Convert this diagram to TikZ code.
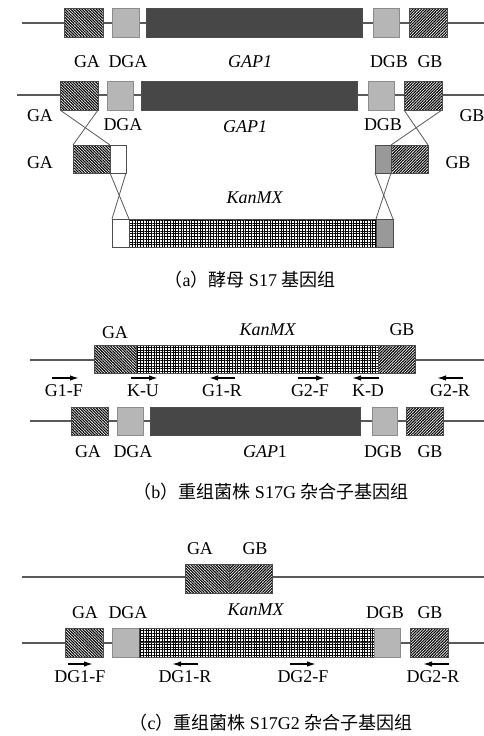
\documentclass[tikz,border=0pt]{standalone}
\usepackage{fontspec}
\setmainfont{Liberation Serif}
\newfontfamily\cjk{Noto Sans CJK SC}
\usetikzlibrary{patterns.meta,arrows.meta}

\begin{document}
\begin{tikzpicture}[x=1pt, y=-1pt,
  every node/.style={inner sep=0pt, outer sep=0pt},
  dna/.style={draw=black!65, line width=1.2pt},
  seg/.style={draw=black!70, line width=0.8pt, minimum height=29},
  gabox/.style={seg, preaction={fill=white}, pattern={Lines[angle=-45,distance=2pt,line width=1.1pt]}},
  gbbox/.style={seg, preaction={fill=white}, pattern={Lines[angle=45,distance=2pt,line width=1.1pt]}},
  dgbox/.style={seg, draw=black!45, preaction={fill=gray!35}, pattern={Dots[distance=2pt,radius=0.6pt]}, pattern color=black!65},
  genebox/.style={seg, fill=black!72},
  kanbox/.style={seg, preaction={fill=white}, pattern={Hatch[angle=0,distance=2.7pt,line width=0.6pt]}},
  whitebox/.style={seg, fill=white},
  graybox/.style={seg, fill=black!40},
  cross/.style={draw=black!65, line width=0.8pt},
  lbl/.style={font=\fontsize{18}{20}\selectfont},
  capline/.style={font=\fontsize{18}{20}\selectfont},
  primer/.style={line width=1.5pt, -{Latex[length=9pt,width=5.5pt]}}]
  \useasboundingbox (0,0) rectangle (484,736);

  % (a) row 1
  \coordinate (la1) at (22,23);
  \coordinate (lb1) at (484,23);
  \draw[dna] (la1) -- (lb1);
  \node[gabox, minimum width=39] (ga1) at (83.5,22.5) {};
  \node[dgbox, minimum width=27] (dga1) at (125.5,22.5) {};
  \node[genebox, minimum width=216] (gap1) at (254,22.5) {};
  \node[dgbox, minimum width=26] (dgb1) at (386,22.5) {};
  \node[gbbox, minimum width=38] (gb1) at (428,22.5) {};
  \node[lbl] (tga1) at (87,62) {GA};
  \node[lbl] (tdga1) at (128,62) {DGA};
  \node[lbl] (tgap1) at (250,62) {\textit{GAP1}};
  \node[lbl] (tdgb1) at (389,62) {DGB};
  \node[lbl] (tgb1) at (430,62) {GB};

  % (a) row 2
  \coordinate (la2) at (17,95);
  \coordinate (lb2) at (484,95);
  \draw[dna] (la2) -- (lb2);
  \node[gabox, minimum width=38] (ga2) at (79,95.5) {};
  \node[dgbox, minimum width=26] (dga2) at (120,95.5) {};
  \node[genebox, minimum width=216] (gap2) at (249,95.5) {};
  \node[dgbox, minimum width=26] (dgb2) at (381,95.5) {};
  \node[gbbox, minimum width=38] (gb2) at (423,95.5) {};
  \node[lbl] (tga2) at (40,116) {GA};
  \node[lbl] (tdga2) at (123,125) {DGA};
  \node[lbl] (tgap2) at (245,127) {\textit{GAP1}};
  \node[lbl] (tdgb2) at (383,125) {DGB};
  \node[lbl] (tgb2) at (472,116) {GB};

  % (a) row 3
  \node[gabox, minimum width=37, minimum height=28] (ga3) at (91.5,159) {};
  \node[whitebox, minimum width=16, minimum height=28] (wa3) at (118,159) {};
  \node[graybox, minimum width=16, minimum height=28] (ka3) at (383,159) {};
  \node[gbbox, minimum width=37, minimum height=28] (gb3) at (409.5,159) {};
  \node[lbl] (tga3) at (40,163) {GA};
  \node[lbl] (tgb3) at (458,163) {GB};

  % (a) row 4
  \node[whitebox, minimum width=17, minimum height=28] (wa4) at (120.5,233) {};
  \node[kanbox, minimum width=247, minimum height=28] (kan4) at (252.5,233) {};
  \node[graybox, minimum width=17, minimum height=28] (gr4) at (384.5,233) {};
  \node[lbl] (tkan4) at (255,198) {\textit{KanMX}};

  % crossovers
  \draw[cross] (ga2.south west) -- (ga3.north east);
  \draw[cross] (ga2.south east) -- (ga3.north west);
  \draw[cross] (gb2.south west) -- (gb3.north east);
  \draw[cross] (gb2.south east) -- (gb3.north west);
  \draw[cross] (wa3.south west) -- (wa4.north east);
  \draw[cross] (wa3.south east) -- (wa4.north west);
  \draw[cross] (ka3.south west) -- (gr4.north east);
  \draw[cross] (ka3.south east) -- (gr4.north west);

  \node[capline] (capa) at (250,280) {{\cjk （}a{\cjk ）酵母} S17 {\cjk 基因组}};

  % (b) top
  \coordinate (la5) at (30,360);
  \coordinate (lb5) at (484,360);
  \draw[dna] (la5) -- (lb5);
  \node[gabox, minimum width=42, minimum height=28] (ga5) at (115,359) {};
  \node[kanbox, minimum width=242, minimum height=28] (kan5) at (257,359) {};
  \node[gbbox, minimum width=37, minimum height=28] (gb5) at (396.5,359) {};
  \node[lbl] (tga5) at (115,333) {GA};
  \node[lbl] (tkan5) at (268,330) {\textit{KanMX}};
  \node[lbl] (tgb5) at (402,330) {GB};

  % primers
  \node[lbl] (g1f) at (64,391) {G1-F};
  \node[lbl] (ku) at (143,391) {K-U};
  \node[lbl] (g1r) at (222,391) {G1-R};
  \node[lbl] (g2f) at (310,391) {G2-F};
  \node[lbl] (kd) at (368,391) {K-D};
  \node[lbl] (g2r) at (450,391) {G2-R};
  \draw[primer] ([xshift=-12pt,yshift=13pt]g1f.center) -- ([xshift=15pt,yshift=13pt]g1f.center);
  \draw[primer] ([xshift=-12pt,yshift=13pt]ku.center) -- ([xshift=15pt,yshift=13pt]ku.center);
  \draw[primer] ([xshift=13pt,yshift=13pt]g1r.center) -- ([xshift=-13pt,yshift=13pt]g1r.center);
  \draw[primer] ([xshift=-12pt,yshift=13pt]g2f.center) -- ([xshift=15pt,yshift=13pt]g2f.center);
  \draw[primer] ([xshift=11pt,yshift=13pt]kd.center) -- ([xshift=-16pt,yshift=13pt]kd.center);
  \draw[primer] ([xshift=13pt,yshift=13pt]g2r.center) -- ([xshift=-13pt,yshift=13pt]g2r.center);

  % (b) bottom
  \coordinate (la6) at (30,421);
  \coordinate (lb6) at (484,421);
  \draw[dna] (la6) -- (lb6);
  \node[gabox, minimum width=37, minimum height=28] (ga6) at (89.5,421) {};
  \node[dgbox, minimum width=26, minimum height=28] (dga6) at (130,421) {};
  \node[genebox, minimum width=210, minimum height=28] (gap6) at (255,421) {};
  \node[dgbox, minimum width=25, minimum height=28] (dgb6) at (384.5,421) {};
  \node[gbbox, minimum width=37, minimum height=28] (gb6) at (424.5,421) {};
  \node[lbl] (tga6) at (88,452) {GA};
  \node[lbl] (tdga6) at (133,452) {DGA};
  \node[lbl] (tgap6) at (265,452) {\textit{GAP}1};
  \node[lbl] (tdgb6) at (383,452) {DGB};
  \node[lbl] (tgb6) at (430,452) {GB};

  \node[capline] (capb) at (271,492) {{\cjk （}b{\cjk ）重组菌株} S17G {\cjk 杂合子基因组}};

  % (c) top
  \coordinate (la7) at (22,577);
  \coordinate (lb7) at (484,577);
  \draw[dna] (la7) -- (lb7);
  \node[gabox, minimum width=44] (ga7) at (207,578.5) {};
  \node[gbbox, minimum width=43] (gb7) at (250.5,578.5) {};
  \node[lbl] (tga7) at (200,549) {GA};
  \node[lbl] (tgb7) at (255,549) {GB};

  % (c) bottom
  \coordinate (la8) at (22,643);
  \coordinate (lb8) at (484,643);
  \draw[dna] (la8) -- (lb8);
  \node[gabox, minimum width=38] (ga8) at (84,642.5) {};
  \node[dgbox, minimum width=27] (dga8) at (125.5,642.5) {};
  \node[kanbox, minimum width=235] (kan8) at (256.5,642.5) {};
  \node[dgbox, minimum width=26] (dgb8) at (387,642.5) {};
  \node[gbbox, minimum width=38] (gb8) at (429,642.5) {};
  \draw[dna, draw=black!80] (kan8.west) -- (kan8.east);
  \node[lbl] (tga8) at (85,613) {GA};
  \node[lbl] (tdga8) at (128,613) {DGA};
  \node[lbl] (tkan8) at (256,610) {\textit{KanMX}};
  \node[lbl] (tdgb8) at (385,613) {DGB};
  \node[lbl] (tgb8) at (430,613) {GB};

  % primers
  \node[lbl] (dg1f) at (80,677) {DG1-F};
  \node[lbl] (dg1r) at (185,677) {DG1-R};
  \node[lbl] (dg2f) at (303,677) {DG2-F};
  \node[lbl] (dg2r) at (433,677) {DG2-R};
  \draw[primer] ([xshift=-12pt,yshift=13pt]dg1f.center) -- ([xshift=13pt,yshift=13pt]dg1f.center);
  \draw[primer] ([xshift=13pt,yshift=13pt]dg1r.center) -- ([xshift=-13pt,yshift=13pt]dg1r.center);
  \draw[primer] ([xshift=-13pt,yshift=13pt]dg2f.center) -- ([xshift=13pt,yshift=13pt]dg2f.center);
  \draw[primer] ([xshift=16pt,yshift=13pt]dg2r.center) -- ([xshift=-10pt,yshift=13pt]dg2r.center);

  \node[capline] (capc) at (271,723) {{\cjk （}c{\cjk ）重组菌株} S17G2 {\cjk 杂合子基因组}};
\end{tikzpicture}
\end{document}
